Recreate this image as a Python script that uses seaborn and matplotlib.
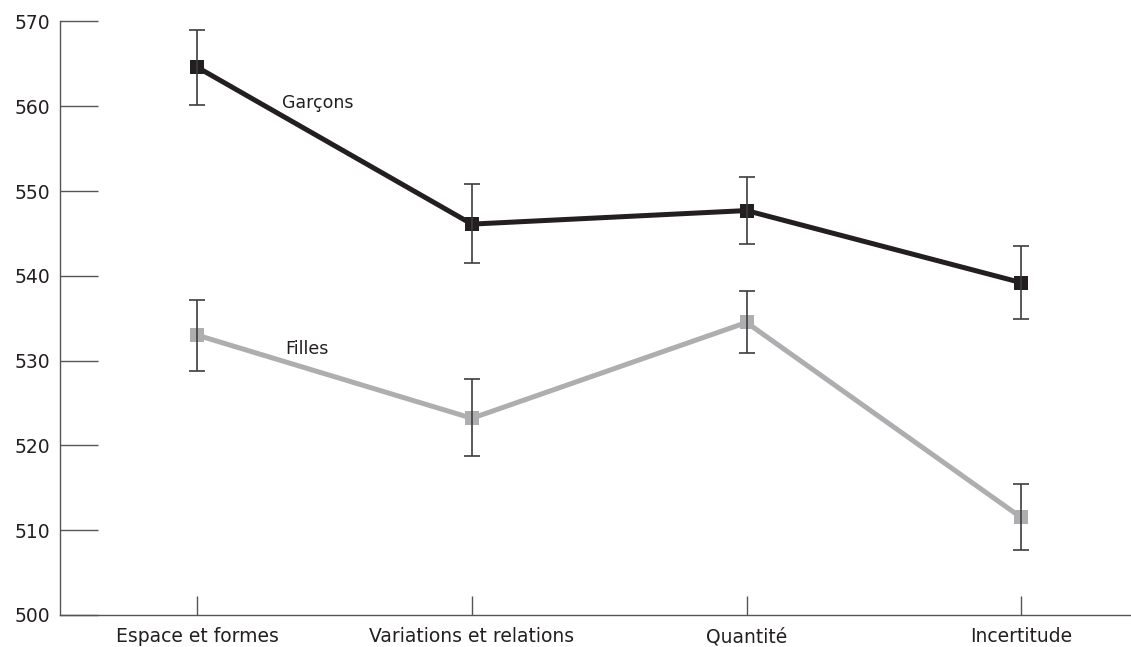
import matplotlib
matplotlib.use("Agg")
import matplotlib.pyplot as plt
import seaborn as sns
import numpy as np
import pandas as pd

categories = ["Espace et formes", "Variations et relations", "Quantité", "Incertitude"]
garcons = [564.6, 546.1, 547.7, 539.2]
garcons_low = [560.2, 541.5, 543.7, 534.9]
garcons_high = [569.0, 550.8, 551.6, 543.5]
filles = [533.0, 523.2, 534.5, 511.5]
filles_low = [528.8, 518.7, 530.9, 507.7]
filles_high = [537.2, 527.8, 538.2, 515.4]
yticks = [500, 510, 520, 530, 540, 550, 560, 570]

sns.set_style("white")
plt.rcParams['font.family'] = ['DejaVu Sans']

fig = plt.figure(figsize=(11.31, 6.47), dpi=100)
ax = fig.add_axes([0.053, 0.0495, 0.947, 0.9173])

x = np.arange(len(categories))
df = pd.DataFrame({"x": np.concatenate([x, x]),
                   "score": garcons + filles,
                   "groupe": ["Garçons"] * 4 + ["Filles"] * 4})

dark = "#231f20"
gray = "#aeadb0"
errc = "#3d3d3d"

sns.lineplot(data=df[df.groupe == "Filles"], x="x", y="score", color=gray, lw=3.6,
             marker="s", markersize=10.5, markeredgewidth=0, ax=ax, zorder=2)
sns.lineplot(data=df[df.groupe == "Garçons"], x="x", y="score", color=dark, lw=3.6,
             marker="s", markersize=10.5, markeredgewidth=0, ax=ax, zorder=2)

for v, lo, hi in [(garcons, garcons_low, garcons_high), (filles, filles_low, filles_high)]:
    v = np.array(v)
    ax.errorbar(x, v, yerr=[v - np.array(lo), np.array(hi) - v], fmt="none",
                ecolor=errc, elinewidth=1.2, capsize=6, capthick=1.2, zorder=3)

ax.text(0.31, 560.4, "Garçons", fontsize=12.5, va="center", ha="left", color="#231f20")
ax.text(0.32, 531.4, "Filles", fontsize=12.5, va="center", ha="left", color="#231f20")

ax.set_xlim(-0.5, 3.4)
ax.set_ylim(500, 570)
ax.set_yticks(yticks)
ax.set_yticklabels([str(t) for t in yticks])
ax.set_xticks(x)
ax.set_xticklabels(categories)
ax.set_xlabel("")
ax.set_ylabel("")
for s in ["top", "right"]:
    ax.spines[s].set_visible(False)
for s in ["left", "bottom"]:
    ax.spines[s].set_color("#555555")
    ax.spines[s].set_linewidth(1.0)
ax.tick_params(axis="y", direction="in", length=27, width=1.0, color="#555555",
               labelsize=13.5, pad=7, left=True)
ax.tick_params(axis="x", direction="in", length=14, width=1.0, color="#555555",
               labelsize=13.5, pad=9, bottom=True)
for lbl in ax.get_xticklabels() + ax.get_yticklabels():
    lbl.set_color("#231f20")
if ax.legend_:
    ax.legend_.remove()

fig.savefig("out.png", dpi=100)
